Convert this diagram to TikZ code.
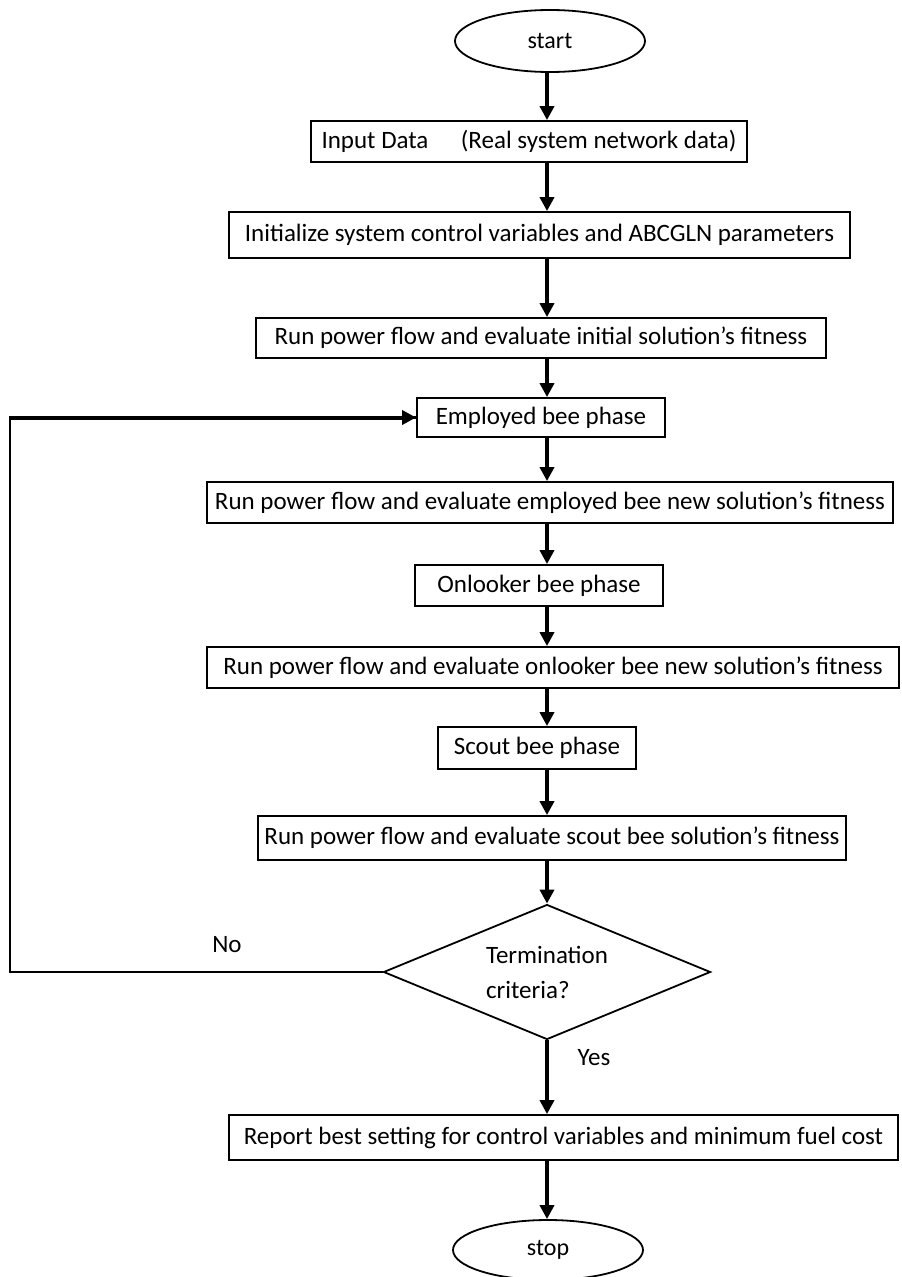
\documentclass[tikz,border=0pt]{standalone}
\usepackage{fontspec}
\setmainfont{Carlito}
\usetikzlibrary{shapes.geometric,arrows.meta,calc}
\begin{document}
\begin{tikzpicture}[x=1pt,y=-1pt,
  box/.style={draw, line width=1.8pt, rectangle, inner sep=0pt, font=\fontsize{25}{29}\selectfont},
  term/.style={draw, line width=1.8pt, ellipse, inner sep=0pt, font=\fontsize{24}{28}\selectfont},
  decision/.style={draw, line width=1.8pt, diamond, aspect=2.42, inner sep=0pt, align=left, font=\fontsize{25}{35}\selectfont},
  arr/.style={line width=4pt, -{Triangle[width=14pt,length=14pt]}},
  fb/.style={line width=2.5pt},
  lbl/.style={font=\fontsize{25}{29}\selectfont, inner sep=0pt}
]
\useasboundingbox (0,0) rectangle (902,1277);
\coordinate (col) at (547,0);
\coordinate (loopL) at (10,700);

\node[term, minimum width=190pt, minimum height=62pt] (start) at (550,41) {start};
\node[box, minimum width=436pt, minimum height=41pt] (inp) at (529,141.5) {Input Data\hspace{1.3em}(Real system network data)};
\node[box, minimum width=621pt, minimum height=46pt] (init) at (539.5,235) {Initialize system control variables and ABCGLN parameters};
\node[box, minimum width=570pt, minimum height=40pt] (pf0) at (541,338) {Run power flow and evaluate initial solution’s fitness};
\node[box, minimum width=248pt, minimum height=39pt] (emp) at (541,417.5) {Employed bee phase};
\node[box, minimum width=686pt, minimum height=41pt] (pf1) at (550,502.5) {Run power flow and evaluate employed bee new solution’s fitness};
\node[box, minimum width=248pt, minimum height=41pt] (onl) at (539,585.5) {Onlooker bee phase};
\node[box, minimum width=692pt, minimum height=41pt] (pf2) at (553,667.5) {Run power flow and evaluate onlooker bee new solution’s fitness};
\node[box, minimum width=198pt, minimum height=42pt] (sct) at (537,748) {Scout bee phase};
\node[box, minimum width=588pt, minimum height=44pt] (pf3) at (552,838) {Run power flow and evaluate scout bee solution’s fitness};
\node[decision, minimum width=327pt, minimum height=135pt] (dec) at (547,972) {Termination\\criteria?};
\node[box, minimum width=669pt, minimum height=45pt] (rep) at (563.5,1137.5) {Report best setting for control variables and minimum fuel cost};
\node[term, minimum width=190pt, minimum height=60pt] (stop) at (548,1250) {stop};

\draw[arr] (start.south -| col) -- (inp.north -| col);
\draw[arr] (inp.south -| col) -- (init.north -| col);
\draw[arr] (init.south -| col) -- (pf0.north -| col);
\draw[arr] (pf0.south -| col) -- (emp.north -| col);
\draw[arr] (emp.south -| col) -- (pf1.north -| col);
\draw[arr] (pf1.south -| col) -- (onl.north -| col);
\draw[arr] (onl.south -| col) -- (pf2.north -| col);
\draw[arr] (pf2.south -| col) -- (sct.north -| col);
\draw[arr] (sct.south -| col) -- (pf3.north -| col);
\draw[arr] (pf3.south -| col) -- (dec.north);
\draw[arr] (dec.south) -- (rep.north -| dec.south);
\draw[arr] (rep.south -| col) -- (stop.north -| col);

\draw[fb] (dec.west) -| (loopL) |- (emp.west);
\draw[arr] (loopL |- emp.west) -- (emp.west);

\node[lbl] (no) at (227,945) {No};
\node[lbl] (yes) at (594,1058) {Yes};
\end{tikzpicture}
\end{document}
